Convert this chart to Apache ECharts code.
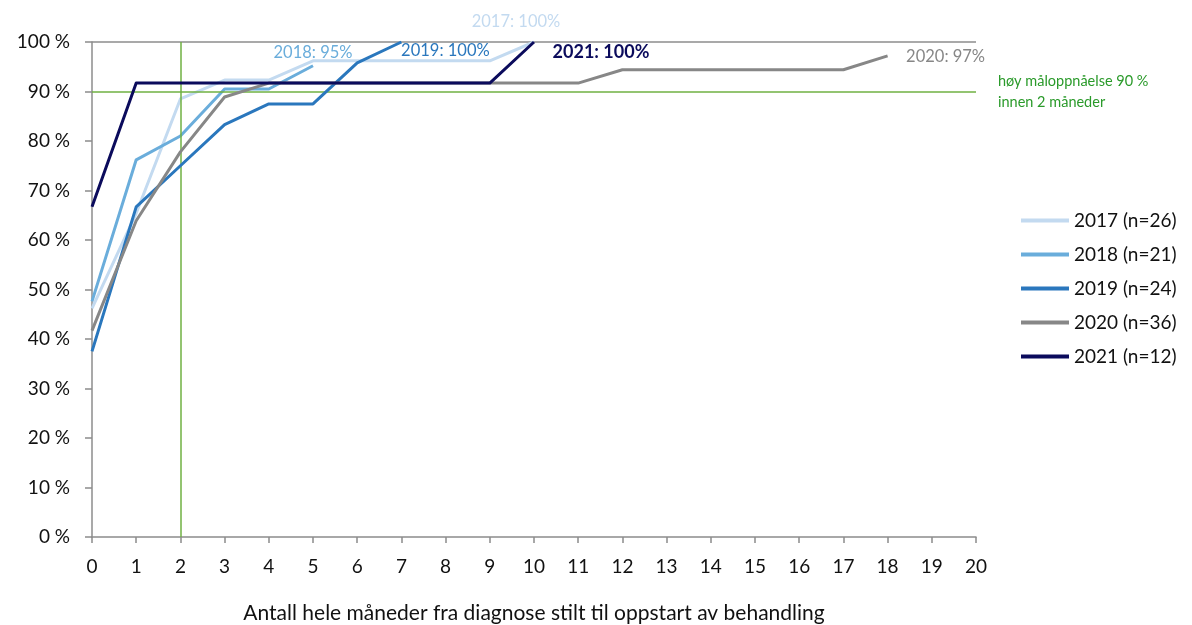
<!DOCTYPE html>
<html>
<head>
<meta charset="utf-8">
<script src="https://cdn.jsdelivr.net/npm/echarts@6/dist/echarts.min.js"></script>
<style>
  html, body { margin: 0; padding: 0; background: #fff; }
  #chart { width: 1192px; height: 625px; }
</style>
</head>
<body>
<div id="chart"></div>
<script>
// Months from diagnosis to start of treatment (x axis ticks)
const months = Array.from({ length: 21 }, (_, i) => i);

// Cumulative share (%) started within n whole months, per diagnosis year
const v2017 = [46.2, 65.4, 88.5, 92.3, 92.3, 96.2, 96.2, 96.2, 96.2, 96.2, 100];
const v2018 = [47.6, 76.2, 81.0, 90.5, 90.5, 95.2];
const v2019 = [37.5, 66.7, 75.0, 83.3, 87.5, 87.5, 95.8, 100];
const v2020 = [41.7, 63.9, 77.8, 88.9, 91.7, 91.7, 91.7, 91.7, 91.7, 91.7, 91.7, 91.7,
               94.4, 94.4, 94.4, 94.4, 94.4, 94.4, 97.2];
const v2021 = [66.7, 91.7, 91.7, 91.7, 91.7, 91.7, 91.7, 91.7, 91.7, 91.7, 100];

const seriesNames = ['2017 (n=26)', '2018 (n=21)', '2019 (n=24)', '2020 (n=36)', '2021 (n=12)'];
const endLabels = ['2017: 100%', '2018: 95%', '2019: 100%', '2020: 97%', '2021: 100%'];

const goalValue = 90;   // target share
const goalMonths = 2;   // within this many months
const goalText = 'høy måloppnåelse 90 %\ninnen 2 måneder';

const FONT = 'Lato, "Noto Sans", sans-serif';
const colors = ['#c3daf0', '#6aaddb', '#2a77bd', '#878787', '#0b0b5c'];
// label offsets (px) from each series' last point, plus styling
const labelStyle = [
  { offset: [-18, -20], fontWeight: 'normal', size: 16.5 },
  { offset: [0, -13], fontWeight: 'normal', size: 16.5 },
  { offset: [44, 9], fontWeight: 'normal', size: 16.5 },
  { offset: [58, 1], fontWeight: 'normal', size: 16.5 },
  { offset: [67, 10], fontWeight: 'bold', size: 18 }
];

const allValues = [v2017, v2018, v2019, v2020, v2021];

const series = allValues.map((vals, k) => {
  const last = vals.length - 1;
  return {
    name: seriesNames[k],
    type: 'line',
    data: vals.map((v, i) => [months[i], v]),
    symbol: 'none',
    lineStyle: { width: 3, color: colors[k], join: 'round' },
    itemStyle: { color: colors[k] },
    z: 3 + k,
    markPoint: {
      silent: true,
      symbol: 'circle',
      symbolSize: 1,
      itemStyle: { color: 'rgba(0,0,0,0)' },
      data: [{
        coord: [months[last], vals[last]],
        label: {
          show: true,
          position: 'inside',
          offset: labelStyle[k].offset,
          formatter: endLabels[k],
          color: colors[k],
          fontFamily: FONT,
          fontSize: labelStyle[k].size,
          fontWeight: labelStyle[k].fontWeight,
          align: 'center',
          verticalAlign: 'middle'
        }
      }]
    }
  };
});

// Goal reference lines (90 % level and 2-month mark)
series.push({
  name: 'goal',
  type: 'line',
  data: [],
  z: 2,
  markLine: {
    silent: true,
    symbol: 'none',
    animation: false,
    lineStyle: { color: '#6fb042', width: 1.5, type: 'solid' },
    data: [
      {
        yAxis: goalValue,
        label: {
          show: true,
          position: 'end',
          distance: 22,
          formatter: goalText,
          color: '#2a9a2a',
          fontFamily: FONT,
          fontSize: 14.5,
          lineHeight: 21,
          align: 'left'
        }
      },
      [
        { coord: [goalMonths, 0], label: { show: false } },
        { coord: [goalMonths, 100] }
      ]
    ]
  }
});

const chart = echarts.init(document.getElementById('chart'), null, { renderer: 'canvas' });
chart.setOption({
  animation: false,
  backgroundColor: '#ffffff',
  grid: { left: 92, right: 216, top: 42, bottom: 88, containLabel: false, outerBoundsMode: 'none' },
  legend: {
    data: seriesNames,
    orient: 'vertical',
    left: 1016,
    top: 206,
    itemWidth: 48,
    itemHeight: 4,
    itemGap: 15,
    icon: 'rect',
    textStyle: { fontFamily: FONT, fontSize: 19, color: '#111' }
  },
  xAxis: {
    type: 'value',
    min: 0,
    max: 20,
    interval: 1,
    name: 'Antall hele måneder fra diagnose stilt til oppstart av behandling',
    nameLocation: 'middle',
    nameGap: 66,
    nameTextStyle: { fontFamily: FONT, fontSize: 21, color: '#111' },
    axisLine: { show: true, lineStyle: { color: '#8c8c8c', width: 1.5 } },
    axisTick: { show: true, length: 6, lineStyle: { color: '#8c8c8c', width: 1.5 } },
    axisLabel: { fontFamily: FONT, fontSize: 19, color: '#111', margin: 20 },
    splitLine: { show: false }
  },
  yAxis: {
    type: 'value',
    min: 0,
    max: 100,
    interval: 10,
    axisLine: { show: true, lineStyle: { color: '#8c8c8c', width: 1.5 } },
    axisTick: { show: true, inside: false, length: 7, lineStyle: { color: '#8c8c8c', width: 1.5 } },
    axisLabel: {
      fontFamily: FONT, fontSize: 19, color: '#111', margin: 22,
      formatter: v => v + ' %'
    },
    splitLine: {
      show: true,
      lineStyle: {
        width: 1.5,
        color: ['rgba(0,0,0,0)', 'rgba(0,0,0,0)', 'rgba(0,0,0,0)', 'rgba(0,0,0,0)',
                'rgba(0,0,0,0)', 'rgba(0,0,0,0)', 'rgba(0,0,0,0)', 'rgba(0,0,0,0)',
                'rgba(0,0,0,0)', 'rgba(0,0,0,0)', '#8c8c8c']
      }
    }
  },
  series: series
});
</script>
</body>
</html>
